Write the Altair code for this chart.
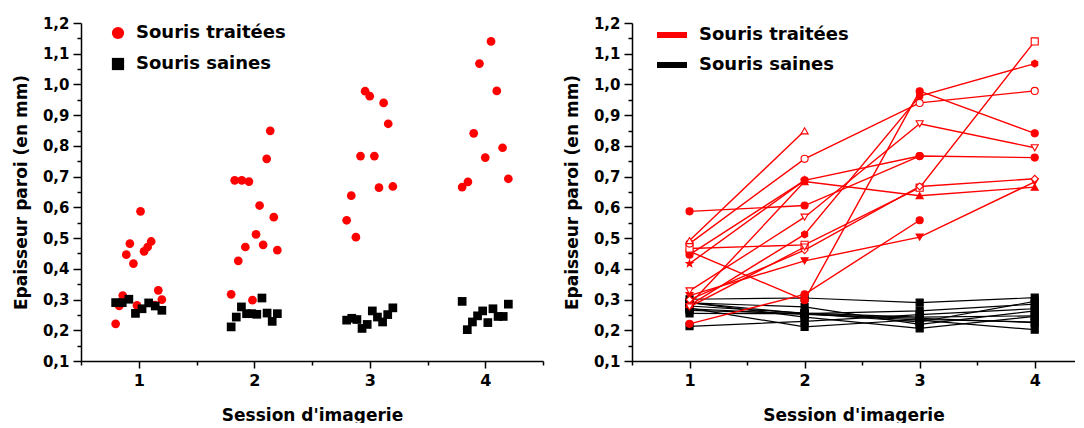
import altair as alt
import pandas as pd

FONT = "DejaVu Sans"
GROUPS = ["Souris traitées", "Souris saines"]
GROUP_COLORS = ["#ff0000", "#000000"]
SESSIONS = [1, 2, 3, 4]

# Column scatter: wall thickness (mm) per imaging session, in worksheet row order
treated_s1 = [0.221, 0.279, 0.313, 0.446, 0.482, 0.417, 0.281, 0.587, 0.457, 0.471, 0.489, 0.282, 0.330, 0.300]
treated_s2 = [0.317, 0.688, 0.426, 0.688, 0.471, 0.684, 0.298, 0.512, 0.606, 0.478, 0.758, 0.849, 0.568, 0.461]
treated_s3 = [0.558, 0.638, 0.503, 0.767, 0.978, 0.962, 0.767, 0.664, 0.940, 0.872, 0.668]
treated_s4 = [0.666, 0.683, 0.841, 1.068, 0.762, 1.140, 0.979, 0.794, 0.693]
healthy_s1 = [0.290, 0.290, 0.301, 0.255, 0.270, 0.289, 0.279, 0.265]
healthy_s2 = [0.211, 0.243, 0.276, 0.254, 0.254, 0.252, 0.305, 0.256, 0.229, 0.254]
healthy_s3 = [0.233, 0.239, 0.235, 0.206, 0.219, 0.263, 0.243, 0.227, 0.251, 0.273]
healthy_s4 = [0.294, 0.202, 0.227, 0.247, 0.263, 0.225, 0.270, 0.245, 0.245, 0.285]

# Follow-up of each mouse across sessions 1..4 (None = not imaged)
treated_tracks = [
    [0.221, 0.317, 0.558, None],
    [0.284, 0.684, 0.638, 0.666],
    [0.313, 0.426, 0.503, 0.683],
    [0.446, 0.688, 0.767, 0.762],
    [0.457, 0.298, 0.978, 0.841],
    [0.281, 0.512, 0.962, 1.068],
    [0.587, 0.606, 0.767, None],
    [0.417, 0.688, None, None],
    [0.466, 0.478, 0.664, 1.140],
    [0.482, 0.758, 0.940, 0.979],
    [0.492, 0.849, None, None],
    [0.328, 0.568, 0.872, 0.794],
    [0.300, 0.461, 0.668, 0.693],
    [0.276, 0.471, None, None],
]
healthy_tracks = [
    [0.213, 0.229, 0.251, 0.270],
    [0.290, 0.243, 0.206, 0.245],
    [0.289, 0.276, 0.219, 0.263],
    [0.301, 0.305, 0.290, 0.306],
    [0.255, 0.254, 0.263, 0.285],
    [0.270, 0.252, 0.239, 0.225],
    [0.290, 0.254, 0.233, 0.202],
    [0.279, 0.256, 0.243, 0.247],
    [0.265, 0.254, 0.227, 0.294],
    [0.272, 0.211, 0.235, 0.227],
]

STAR = "M0,-1L0.235,-0.324L0.951,-0.309L0.38,0.124L0.588,0.809L0,0.4L-0.588,0.809L-0.38,0.124L-0.951,-0.309L-0.235,-0.324Z"
HEXAGON = "M0,-1L0.866,-0.5L0.866,0.5L0,1L-0.866,0.5L-0.866,-0.5Z"
treated_symbols = ["circle", "triangle-up", "triangle-down", "circle", "circle", HEXAGON, "circle",
                   STAR, "square", "circle", "triangle-up", "triangle-down", "diamond", "triangle-down"]
treated_hollow = [False, False, False, False, False, False, False,
                  False, True, True, True, True, True, True]

# ---- tables -------------------------------------------------------------
scatter_rows = []
for group, lists in ((GROUPS[0], [treated_s1, treated_s2, treated_s3, treated_s4]),
                     (GROUPS[1], [healthy_s1, healthy_s2, healthy_s3, healthy_s4])):
    for session, values in zip(SESSIONS, lists):
        n = len(values)
        for i, v in enumerate(values):
            # evenly spread jitter of +/-0.2 around the session position
            scatter_rows.append({"groupe": group, "x": session - 0.2 + 0.4 * i / (n - 1), "value": v})
scatter_df = pd.DataFrame(scatter_rows)

track_rows = []
for k, track in enumerate(healthy_tracks):
    for session, v in zip(SESSIONS, track):
        if v is not None:
            track_rows.append({"souris": f"S{k + 1}", "serie": GROUPS[1], "session": session, "value": v,
                               "symbol": "square", "fillc": "#000000", "strokec": "#000000"})
for k, track in enumerate(treated_tracks):
    for session, v in zip(SESSIONS, track):
        if v is not None:
            track_rows.append({"souris": f"T{k + 1}", "serie": GROUPS[0], "session": session, "value": v,
                               "symbol": treated_symbols[k],
                               "fillc": "#ffffff" if treated_hollow[k] else "#ff0000",
                               "strokec": "#ff0000"})
track_df = pd.DataFrame(track_rows)

# ---- axes ---------------------------------------------------------------
Y_TICKS = [round(0.1 + 0.05 * i, 2) for i in range(23)]
Y_MAJOR = "abs(datum.value * 10 - round(datum.value * 10)) < 0.01"
X_MAJOR = "abs(datum.value - round(datum.value)) < 0.01"


def y_axis():
    return alt.Axis(
        values=Y_TICKS,
        title="Epaisseur paroi (en mm)",
        labelExpr=f"{Y_MAJOR} ? replace(format(datum.value, '.1f'), '.', ',') : ''",
        tickSize={"condition": {"test": Y_MAJOR, "value": 8}, "value": 4},
        labelPadding=4,
        titlePadding=12,
        labelFontSize=15,
    )


def x_axis(ticks):
    return alt.Axis(
        values=ticks,
        title="Session d'imagerie",
        labelExpr=f"{X_MAJOR} ? format(datum.value, 'd') : ''",
        tickSize={"condition": {"test": X_MAJOR, "value": 7}, "value": 4},
        labelPadding=4,
        titlePadding=19,
        labelFontSize=16,
    )


Y_SCALE = alt.Scale(domain=[0.1, 1.2], nice=False, zero=False)
PLOT_H = 338

# ---- left: column scatter ----------------------------------------------
scatter_legend = alt.Legend(
    title=None, orient="none", legendX=28, legendY=1, direction="vertical",
    symbolSize=150, symbolStrokeWidth=0, labelFontSize=18, labelFont=FONT,
    labelFontWeight="bold", labelColor="#000000", labelOffset=9, rowPadding=13, padding=0,
)
left = alt.Chart(scatter_df).mark_point(filled=True, size=76, opacity=1).encode(
    x=alt.X("x:Q", scale=alt.Scale(domain=[0.5, 4.5], nice=False, zero=False),
            axis=x_axis([0.5, 1, 1.5, 2, 2.5, 3, 3.5, 4, 4.5])),
    y=alt.Y("value:Q", scale=Y_SCALE, axis=y_axis()),
    color=alt.Color("groupe:N", scale=alt.Scale(domain=GROUPS, range=GROUP_COLORS), legend=scatter_legend),
    shape=alt.Shape("groupe:N", scale=alt.Scale(domain=GROUPS, range=["circle", "square"]), legend=scatter_legend),
).properties(width=462, height=PLOT_H)

# ---- right: individual follow-up ----------------------------------------
line_legend = alt.Legend(
    title=None, orient="none", legendX=22, legendY=-6, direction="vertical",
    symbolType="stroke", symbolSize=900, symbolStrokeWidth=6, labelFontSize=18, labelFont=FONT,
    labelFontWeight="bold", labelColor="#000000", labelOffset=9, rowPadding=0, padding=0,
)
rx = alt.X("session:Q", scale=alt.Scale(domain=[0.5, 4.35], nice=False, zero=False),
           axis=x_axis([0.5, 1, 1.5, 2, 2.5, 3, 3.5, 4]))
ry = alt.Y("value:Q", scale=Y_SCALE, axis=y_axis())
base = alt.Chart(track_df)


def lines(group, width):
    return base.transform_filter(alt.datum.serie == group).mark_line(strokeWidth=width).encode(
        x=rx, y=ry, detail="souris:N", order="session:Q",
        color=alt.Color("serie:N", scale=alt.Scale(domain=GROUPS, range=GROUP_COLORS), legend=line_legend),
    )


def markers(group):
    return base.transform_filter(alt.datum.serie == group).mark_point(size=50, opacity=1, strokeWidth=1.1).encode(
        x=rx, y=ry,
        shape=alt.Shape("symbol:N", scale=None),
        fill=alt.Fill("fillc:N", scale=None),
        stroke=alt.Stroke("strokec:N", scale=None),
    )


right = alt.layer(
    lines(GROUPS[1], 1.2), markers(GROUPS[1]), lines(GROUPS[0], 1.4), markers(GROUPS[0])
).properties(width=443, height=PLOT_H)

chart = alt.hconcat(left, right, spacing=19).resolve_scale(
    color="independent", shape="independent"
).resolve_legend(color="independent", shape="independent").configure(
    padding={"left": 12, "top": 16, "right": 0, "bottom": 0},
    font=FONT,
).configure_view(stroke=None).configure_axis(
    grid=False, domainColor="#000000", domainWidth=1.5, tickColor="#000000", tickWidth=1.5,
    labelFont=FONT, labelFontWeight="bold", labelColor="#000000", labelOverlap=False, labelFlush=False,
    titleFont=FONT, titleFontWeight="bold", titleFontSize=17, titleColor="#000000",
)

chart.save("out.html", embed_options={"renderer": "svg", "actions": False})
